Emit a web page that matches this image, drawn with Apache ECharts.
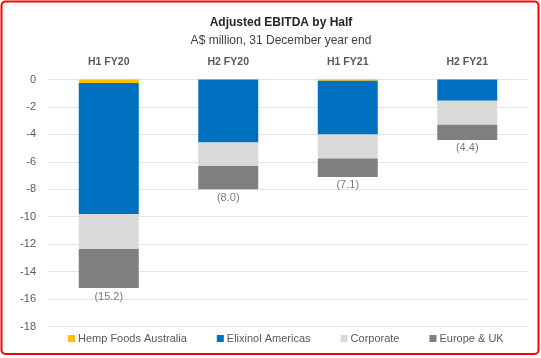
<!DOCTYPE html>
<html>
<head>
<meta charset="utf-8">
<script src="https://cdn.jsdelivr.net/npm/echarts@6/dist/echarts.min.js"></script>
<style>html,body{margin:0;padding:0;background:#fff}#c{width:541px;height:358px}</style>
</head>
<body>
<div id="c"></div>
<script>
const categories = ['H1 FY20', 'H2 FY20', 'H1 FY21', 'H2 FY21'];
const hempFoods = [-0.25, 0, -0.1, 0];
const elixinolAmericas = [-9.55, -4.6, -3.9, -1.55];
const corporate = [-2.55, -1.7, -1.75, -1.75];
const europeUK = [-2.85, -1.7, -1.35, -1.1];
const totals = [-15.2, -8.0, -7.1, -4.4];
const yTicks = [0, -2, -4, -6, -8, -10, -12, -14, -16, -18];

const FONT = 'Liberation Sans';
const chart = echarts.init(document.getElementById('c'));
const bar = (name, data, color) => ({
  name, type: 'bar', stack: 'ebitda', data, barWidth: 60,
  itemStyle: { color }, emphasis: { disabled: true }
});
chart.setOption({
  animation: false,
  textStyle: { fontFamily: FONT },
  title: [
    { text: 'Adjusted EBITDA by Half', left: 276, top: 12, textAlign: 'center',
      textStyle: { fontFamily: FONT, fontSize: 12, fontWeight: 'bold', color: '#262626' } },
    { text: 'A$ million, 31 December year end', left: 276, top: 30, textAlign: 'center',
      textStyle: { fontFamily: FONT, fontSize: 12, fontWeight: 'normal', color: '#404040' } }
  ],
  legend: {
    data: ['Hemp Foods Australia', 'Elixinol Americas', 'Corporate', 'Europe & UK'],
    left: 63, top: 328, itemWidth: 7, itemHeight: 7, itemGap: 30, icon: 'rect',
    textStyle: { fontFamily: FONT, fontSize: 11, color: '#595959', padding: [0, 0, 0, -2] }
  },
  grid: { left: 49, right: 14, top: 79.5, bottom: 31.5, containLabel: false },
  xAxis: {
    type: 'category', data: categories, position: 'top',
    axisLine: { show: false }, axisTick: { show: false },
    axisLabel: { margin: 12, fontFamily: FONT, fontSize: 10.5, fontWeight: 'bold', color: '#595959' }
  },
  yAxis: {
    type: 'value', min: -18, max: 0, interval: 2,
    axisLine: { show: false }, axisTick: { show: false },
    axisLabel: { margin: 13, fontFamily: FONT, fontSize: 11, color: '#595959',
      formatter: v => yTicks.includes(v) ? String(v) : '' },
    splitLine: { lineStyle: { color: '#E4E4E4', width: 1 } }
  },
  series: [
    bar('Hemp Foods Australia', hempFoods, '#FFC000'),
    bar('Elixinol Americas', elixinolAmericas, '#0070C0'),
    bar('Corporate', corporate, '#D9D9D9'),
    bar('Europe & UK', europeUK, '#7F7F7F'),
    {
      name: 'Total', type: 'scatter', data: totals, symbolSize: 0.01,
      label: { show: true, position: 'bottom', distance: 3, fontFamily: FONT, fontSize: 11, color: '#595959',
        formatter: p => '(' + Math.abs(p.value).toFixed(1) + ')' },
      emphasis: { disabled: true }, tooltip: { show: false }
    }
  ],
  graphic: [{
    type: 'rect', silent: true, z: 100,
    shape: { x: 1.5, y: 1.5, width: 537, height: 352.5, r: 4 },
    style: { fill: 'none', stroke: '#FF0000', lineWidth: 2 }
  }]
});
</script>
</body>
</html>
